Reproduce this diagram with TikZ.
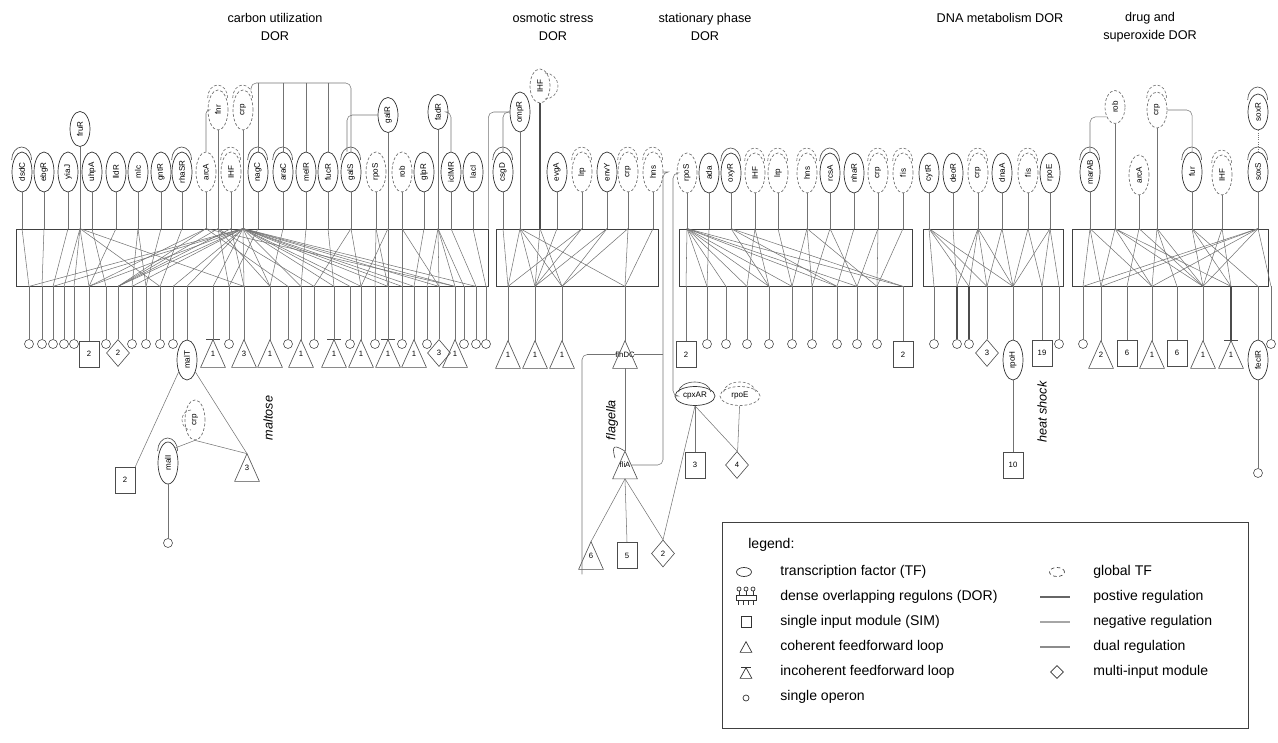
\documentclass[tikz,border=0pt]{standalone}
\usepackage{fontspec}
\setmainfont{Liberation Sans}
\usetikzlibrary{shapes.geometric,fit}

\newcommand\tffont{\fontsize{4.6}{5}\selectfont}
\newcommand\numfont{\fontsize{4.4}{5}\selectfont}
\newcommand\titlefont{\fontsize{7.2}{10.2}\selectfont}
\newcommand\legfont{\fontsize{8}{9.5}\selectfont}
\newcommand\vtext[1]{\rotatebox{90}{#1}}

% feedforward loop: name, x, y, number
\newcommand\cffl[4]{%
  \node[fflbox] (#1) at (#2,#3) {\raisebox{-2pt}{#4}};
  \draw[shapeline] (#1.south west) -- (#1.north) -- (#1.south east) -- cycle;}
\newcommand\incffl[4]{%
  \cffl{#1}{#2}{#3}{#4}
  \draw[shapeline] ([xshift=-0.14cm]#1.north) -- ([xshift=0.14cm]#1.north);}
% autoregulation loop over a TF
\newcommand\toploop[2][sloop]{%
  \draw[#1] ([yshift=0.24cm]#2.west) arc[start angle=180, end angle=0, x radius=0.2cm, y radius=0.26cm];}

\tikzset{
  tf/.style={draw=black!80, line width=0.4pt, ellipse, minimum width=0.4cm, minimum height=0.8cm, inner sep=0pt, font=\tffont},
  gtf/.style={tf, draw=black!55, dash pattern=on 1.6pt off 1.1pt},
  htf/.style={minimum width=0.8cm, minimum height=0.38cm},
  operon/.style={draw=black!70, line width=0.35pt, circle, minimum size=0.18cm, inner sep=0pt},
  sim/.style={draw=black!70, line width=0.35pt, minimum width=0.4cm, minimum height=0.52cm, inner sep=0pt, font=\numfont},
  mim/.style={draw=black!70, line width=0.35pt, diamond, minimum width=0.46cm, minimum height=0.54cm, inner sep=0pt, font=\numfont},
  fflbox/.style={minimum width=0.48cm, minimum height=0.54cm, inner sep=0pt, font=\numfont},
  shapeline/.style={black!70, line width=0.35pt},
  dor/.style={draw=black!75, line width=0.45pt, inner sep=0pt},
  reg/.style={black!55, line width=0.3pt},
  thickreg/.style={black!70, line width=0.9pt},
  sloop/.style={black!70, line width=0.35pt},
  gloop/.style={sloop, black!55, dash pattern=on 1.6pt off 1.1pt},
  title/.style={font=\titlefont, align=center},
  side/.style={font=\titlefont\itshape},
  legtext/.style={font=\legfont, anchor=west, inner sep=0pt},
}

\begin{document}
\begin{tikzpicture}[x=0.02cm, y=-0.02cm]
\useasboundingbox (0,0) rectangle (1278,743);

% Titles
\node[title] (tCarb) at (275,27) {carbon utilization\\DOR};
\node[title] (tOsmo) at (553,27) {osmotic stress\\DOR};
\node[title] (tStat) at (705,27) {stationary phase\\DOR};
\node[title] (tDNA) at (1000,18) {DNA metabolism DOR};
\node[title] (tDrug) at (1150,27) {drug and\\superoxide DOR};

% ---------------- carbon utilization DOR
\node[dor, fit={(16,229) (488,286)}] (dorC) {};
\foreach \n/\x in {dsdC/22, ebgR/44, yiaJ/68, uhpA/92, lldR/116, mlc/138, gntR/161, rhaSR/182, nagC/258, araC/283, melR/306, fucR/328, galS/351, glpR/424, iclMR/451, lacI/473}
  \node[tf] (\n) at (\x,172) {\vtext{\n}};
\foreach \n/\x/\t in {arcAc/206/arcA, IHFc/231/IHF, rpoSc/376/rpoS, robc/402/rob}
  \node[gtf] (\n) at (\x,172) {\vtext{\t}};
\node[tf, minimum height=0.7cm] (fruR) at (80,129) {\vtext{fruR}};
\node[gtf] (fnr) at (218,110) {\vtext{fnr}};
\node[gtf] (crpc) at (243,110) {\vtext{crp}};
\node[tf, minimum height=0.7cm] (galR) at (388,115) {\vtext{galR}};
\node[tf, minimum height=0.7cm] (fadR) at (438,112) {\vtext{fadR}};
\foreach \n in {dsdC, rhaSR, nagC, araC, galS} {\toploop{\n}}
\foreach \n in {IHFc, fnr, crpc} {\toploop[gloop]{\n}}

\foreach \n/\x in {co1/29, co2/42, co3/53, co4/64, co5/74, co6/106, co7/132, co8/146, co9/160, co10/173, co11/229, co12/288, co13/314, co14/350, co15/375, co16/402, co17/427, co18/464, co19/476, co20/486}
  \node[operon] (\n) at (\x,344) {};
\node[sim] (cs1) at (89,354) {2};
\node[mim] (cd1) at (118,353) {2};
\node[mim] (cd2) at (439,353) {3};
\node[tf] (malT) at (187,360) {\vtext{malT}};
\foreach \n/\x/\t in {ct2/244/3, ct3/270/1, ct4/301/1, ct6/361/1, ct8/414/1, ct9/455/1}
  {\cffl{\n}{\x}{353.5}{\t}}
\foreach \n/\x in {ct1/213, ct5/334, ct7/388}
  {\incffl{\n}{\x}{353.5}{1}}

% regulation above the box
\coordinate (crpbar) at (0,83);
\draw[reg, rounded corners=3] ([xshift=0.16cm]crpc.north) |- (galS |- crpbar) -- (galS.north);
\foreach \n in {nagC, araC, melR, fucR} \draw[reg] (\n |- crpbar) -- (\n.north);
\draw[reg, rounded corners=2] (fnr.west) -| (arcAc.north);
\draw[reg, rounded corners=3] (galR.west) -| ([xshift=-0.08cm]galS.north);
\draw[reg, rounded corners=3] (fadR.east) -| (iclMR.north);

\foreach \a in {dsdC, ebgR, yiaJ, uhpA, lldR, mlc, gntR, rhaSR, arcAc, IHFc, nagC, araC, melR, fucR, galS, rpoSc, robc, glpR, iclMR, lacI, fruR, fnr, crpc, galR, fadR}
  \draw[reg] (\a) -- (\a |- dorC.north);
\foreach \a/\b in {dsdC/co1, ebgR/co2, yiaJ/co3, fruR/co4, fruR/co5, fruR/cs1, fruR/co9, fruR/ct2, uhpA/co6, lldR/cs1, mlc/co7, mlc/co8, gntR/co8, rhaSR/co9, arcAc/cs1, arcAc/cd1, arcAc/co12, arcAc/ct9, fnr/cd1, fnr/co11, fnr/ct3, fnr/co13, IHFc/ct2, IHFc/cd1, crpc/co1, crpc/co3, crpc/cs1, crpc/cd1, crpc/co7, crpc/co10, crpc/malT, crpc/ct1, crpc/ct2, crpc/ct3, crpc/ct4, crpc/ct5, crpc/ct6, crpc/ct7, crpc/ct8, crpc/cd2, crpc/ct9, crpc/co14, crpc/co16, crpc/co19, nagC/co11, araC/ct3, melR/ct4, fucR/ct5, galS/co13, galS/ct6, rpoSc/ct7, rpoSc/co15, galR/ct6, galR/ct7, robc/co16, robc/cd2, glpR/ct8, fadR/cd2, fadR/co17, fadR/ct9, fadR/co18, iclMR/co19, lacI/co20}
  \draw[reg] (\a |- dorC.north) -- (\b |- dorC.south);
\foreach \b in {co1, co2, co3, co4, co5, co6, co7, co8, co9, co10, co11, co12, co13, co14, co15, co16, co17, co18, co19, co20, cs1, cd1, cd2, malT, ct1, ct2, ct3, ct4, ct5, ct6, ct7, ct8, ct9}
  \draw[reg] (\b |- dorC.south) -- (\b);

% maltose
\node[sim] (ms2) at (125,480) {2};
\cffl{mt3}{247}{467.5}{3}
\node[gtf] (crpm) at (195,420) {\vtext{crp}};
\draw[gloop] ([xshift=-0.08cm,yshift=0.2cm]crpm.center) arc[start angle=90, end angle=270, x radius=0.18cm, y radius=0.2cm];
\node[tf, minimum height=0.84cm] (malI) at (168,463) {\vtext{malI}};
\toploop{malI}
\node[operon] (mo1) at (168,543) {};
\draw[reg] (malT.235) -- (ms2.north east);
\draw[reg] (malT.305) -- (mt3.north);
\draw[reg] (crpm.south) -- (mt3.north);
\draw[reg] (crpm.south) -- (malI.north east);
\draw[reg] (malI) -- (mo1);
\node[side, rotate=90] (lMal) at (268,418) {maltose};

% ---------------- osmotic stress DOR
\node[dor, fit={(496,229) (658,286)}] (dorO) {};
\foreach \n/\x/\t in {csgD/503/csgD, evgA/557/evgA, envY/607/envY}
  \node[tf] (\n) at (\x,172) {\vtext{\t}};
\foreach \n/\x/\t in {lrpo/582/lrp, crpo/628/crp, hnso/653/hns}
  \node[gtf] (\n) at (\x,172) {\vtext{\t}};
\node[tf] (ompR) at (520,112) {\vtext{ompR}};
\node[gtf, minimum height=0.68cm] (IHFo) at (540,86) {\vtext{IHF}};
\toploop{csgD}
\foreach \n in {lrpo, crpo, hnso} {\toploop[gloop]{\n}}
\draw[gloop] ([xshift=0.1cm,yshift=0.26cm]IHFo.center) arc[start angle=90, end angle=-90, x radius=0.26cm, y radius=0.26cm];
\draw[reg, rounded corners=3] (ompR.west) -| (csgD.north);
\draw[reg, rounded corners=3] (ompR.west) -| (dorC.north east);

\foreach \n/\x in {ot1/508, ot2/535, ot3/562}
  {\cffl{\n}{\x}{354.5}{1}}
\cffl{flhDC}{625}{354.5}{flhDC}
\foreach \a in {csgD, ompR, evgA, lrpo, envY, crpo, hnso}
  \draw[reg] (\a) -- (\a |- dorO.north);
\draw[thickreg] (IHFo) -- (IHFo |- dorO.north);
\foreach \a/\b in {csgD/ot1, ompR/ot1, ompR/ot2, ompR/ot3, ompR/flhDC, IHFo/ot2, IHFo/ot3, evgA/ot2, lrpo/ot1, lrpo/ot2, envY/ot2, envY/ot3, crpo/ot3, crpo/flhDC, hnso/flhDC}
  \draw[reg] (\a |- dorO.north) -- (\b |- dorO.south);
\foreach \b in {ot1, ot2, ot3, flhDC}
  \draw[reg] (\b |- dorO.south) -- (\b);

% flagella
\cffl{fliA}{625}{465}{fliA}
\draw[sloop] ([xshift=-0.2cm,yshift=-0.14cm]fliA.north) .. controls +(-4,-14) and +(-10,-6) .. (fliA.north);
\cffl{ft6}{591}{555.5}{6}
\node[sim] (fs5) at (627,555.5) {5};
\node[mim] (fd2) at (663,553.5) {2};
\coordinate (hnsdrop) at (663,0);
\coordinate (flhleft) at (582,0);
\draw[reg] (flhDC) -- (fliA);
\draw[reg, rounded corners=3] (hnso.east) -| (hnsdrop |- fliA) -- ([xshift=-0.12cm]fliA.east);
\draw[reg] ([xshift=-0.06cm]flhDC.east) -- (hnsdrop |- flhDC);
\draw[reg, rounded corners=3] ([xshift=0.06cm]flhDC.west) -| ([yshift=-0.1cm]flhleft |- ft6.south);
\draw[reg] (fliA.south) -- (ft6.north);
\draw[reg] (fliA.south) -- (fs5.north);
\draw[reg] (fliA.south) -- (fd2.north);
\node[side, rotate=90] (lFla) at (612,420) {flagella};

% ---------------- stationary phase DOR
\node[dor, fit={(679,229) (912,286)}] (dorS) {};
\foreach \n/\x/\t in {ada/709/ada, oxyR/731/oxyR, rcsA/830/rcsA, nhaR/854/nhaR}
  \node[tf] (\n) at (\x,173) {\vtext{\t}};
\foreach \n/\x/\t in {rpoSs/687/rpoS, IHFs/755/IHF, lrps/778/lrp, hnss/807/hns, crps/878/crp, fiss/903/fis}
  \node[gtf] (\n) at (\x,173) {\vtext{\t}};
\foreach \n in {oxyR, rcsA} {\toploop{\n}}
\foreach \n in {IHFs, lrps, hnss, crps, fiss} {\toploop[gloop]{\n}}
\node[sim] (ss1) at (686,354.5) {2};
\node[sim] (ss2) at (903,354.5) {2};
\foreach \n/\x in {so1/707, so2/726, so3/747, so4/769, so5/792, so6/812, so7/837, so8/857, so9/877}
  \node[operon] (\n) at (\x,344) {};
\foreach \a in {rpoSs, ada, oxyR, IHFs, lrps, hnss, rcsA, nhaR, crps, fiss}
  \draw[reg] (\a) -- (\a |- dorS.north);
\foreach \a/\b in {rpoSs/ss1, rpoSs/so1, rpoSs/so2, rpoSs/so3, rpoSs/so4, rpoSs/so5, rpoSs/so7, rpoSs/so8, rpoSs/ss2, ada/so1, oxyR/so4, oxyR/so7, oxyR/ss2, IHFs/so3, IHFs/so4, lrps/so5, hnss/so5, hnss/so6, hnss/so9, rcsA/so6, rcsA/so8, nhaR/so7, crps/so8, crps/so9, fiss/so9}
  \draw[reg] (\a |- dorS.north) -- (\b |- dorS.south);
\foreach \b in {ss1, so1, so2, so3, so4, so5, so6, so7, so8, so9, ss2}
  \draw[reg] (\b |- dorS.south) -- (\b);

% cpxAR / rpoE
\node[tf, htf] (cpxAR) at (695,396) {cpxAR};
\node[gtf, htf] (rpoEs) at (740,396) {rpoE};
\draw[sloop] ([xshift=0.08cm,yshift=0.08cm]cpxAR.west) arc[start angle=180, end angle=0, x radius=0.32cm, y radius=0.2cm];
\draw[gloop] ([xshift=0.08cm,yshift=0.08cm]rpoEs.west) arc[start angle=180, end angle=0, x radius=0.32cm, y radius=0.2cm];
\coordinate (rpobend) at (673,0);
\draw[reg, rounded corners=3] (rpoSs.west) -| (rpobend |- cpxAR.west) -- (cpxAR.west);
\node[sim] (cs3) at (695,465) {3};
\node[mim] (cd4) at (737,465) {4};
\draw[reg] (cpxAR) -- (cs3);
\draw[reg] (cpxAR.south) -- (cd4.north);
\draw[reg] (rpoEs) -- (cd4);
\draw[reg] (cpxAR.south) -- (fd2.north);

% ---------------- DNA metabolism DOR
\node[dor, fit={(923,229) (1063,286)}] (dorD) {};
\foreach \n/\x/\t in {cytR/929/cytR, deoR/953/deoR, dnaA/1002/dnaA, rpoEd/1050/rpoE}
  \node[tf] (\n) at (\x,173) {\vtext{\t}};
\foreach \n/\x/\t in {crpd/978/crp, fisd/1028/fis}
  \node[gtf] (\n) at (\x,173) {\vtext{\t}};
\foreach \n in {crpd, fisd} {\toploop[gloop]{\n}}
\foreach \n/\x in {do1/934, do2/957, do3/969, do4/1059}
  \node[operon] (\n) at (\x,344) {};
\node[mim] (dd1) at (987,353) {3};
\node[tf] (rpoH) at (1013,360) {\vtext{rpoH}};
\node[sim] (ds1) at (1042,353) {19};
\foreach \a in {cytR, deoR, crpd, dnaA, fisd, rpoEd}
  \draw[reg] (\a) -- (\a |- dorD.north);
\foreach \a/\b in {cytR/do1, cytR/do3, cytR/dd1, cytR/rpoH, deoR/do2, crpd/do2, crpd/do3, crpd/dd1, crpd/rpoH, dnaA/dd1, dnaA/rpoH, fisd/rpoH, fisd/ds1, rpoEd/rpoH, rpoEd/ds1, rpoEd/do4}
  \draw[reg] (\a |- dorD.north) -- (\b |- dorD.south);
\foreach \b in {do1, do4, dd1, rpoH, ds1}
  \draw[reg] (\b |- dorD.south) -- (\b);
\foreach \b in {do2, do3}
  \draw[thickreg, line width=0.6pt] (\b |- dorD.south) -- (\b);
\node[sim] (ds10) at (1013,465) {10};
\draw[reg] (rpoH) -- (ds10);
\node[side, rotate=90] (lHeat) at (1042,412) {heat shock};

% ---------------- drug and superoxide DOR
\node[dor, fit={(1072,229) (1268,286)}] (dorX) {};
\foreach \n/\x/\t in {marAB/1090/marAB, fur/1192/fur, soxS/1258/soxS}
  \node[tf] (\n) at (\x,172) {\vtext{\t}};
\foreach \n/\x/\t in {arcAx/1139/arcA, IHFx/1222/IHF}
  \node[gtf] (\n) at (\x,175) {\vtext{\t}};
\node[gtf, minimum height=0.66cm] (robx) at (1115,107) {\vtext{rob}};
\node[gtf, minimum height=0.72cm] (crpx) at (1157,110) {\vtext{crp}};
\node[tf, minimum height=0.72cm] (soxR) at (1258,112) {\vtext{soxR}};
\foreach \n in {marAB, fur, soxS, soxR} {\toploop{\n}}
\foreach \n in {IHFx, crpx} {\toploop[gloop]{\n}}
\draw[reg, rounded corners=3] (robx.230) -| (marAB.north);
\draw[reg, rounded corners=3] (crpx.east) -| (fur.north);
\draw[reg, densely dotted] (soxR) -- (soxS);
\foreach \n/\x in {xo1/1083, xo2/1271}
  \node[operon] (\n) at (\x,344) {};
\cffl{xt1}{1101}{354.5}{2}
\node[sim] (xs1) at (1127,353) {6};
\cffl{xt2}{1152}{354.5}{1}
\node[sim] (xs2) at (1177,353) {6};
\cffl{xt3}{1203}{354.5}{1}
\incffl{xi1}{1231}{354.5}{1}
\node[tf] (fecIR) at (1258,360) {\vtext{fecIR}};
\node[operon] (xo3) at (1258,473) {};
\draw[reg] (fecIR) -- (xo3);
\foreach \a in {marAB, robx, arcAx, crpx, fur, IHFx, soxS}
  \draw[reg] (\a) -- (\a |- dorX.north);
\foreach \a/\b in {marAB/xo1, marAB/xt1, marAB/xt2, robx/xt1, robx/xt2, robx/xt3, robx/xi1, arcAx/xs1, arcAx/xt3, crpx/xt2, crpx/xs2, crpx/xt3, fur/xt3, fur/xi1, fur/fecIR, IHFx/xi1, IHFx/xt3, soxS/xo1, soxS/xt1, soxS/xt2, soxS/xt3, soxS/xo2}
  \draw[reg] (\a |- dorX.north) -- (\b |- dorX.south);
\foreach \b in {xo1, xt1, xs1, xt2, xs2, xt3, fecIR, xo2}
  \draw[reg] (\b |- dorX.south) -- (\b);
\draw[thickreg, line width=0.6pt] (xi1 |- dorX.south) -- (xi1);

% ---------------- legend
\node[draw=black!75, line width=0.45pt, inner sep=0pt, fit={(722,522) (1248,728)}] (legbox) {};
\node[legtext] (lgHead) at (748,545) {legend:};
\node[draw=black!80, ellipse, minimum width=0.3cm, minimum height=0.18cm, inner sep=0pt] (lgTF) at (744,572) {};
\node[legtext] (lgTFt) at (780,572) {transcription factor (TF)};
\node[draw=black!80, minimum width=0.4cm, minimum height=0.1cm, inner sep=0pt] (lgDOR) at (746,598) {};
\foreach \x in {739,746,753} {
  \draw[black!80] (\x,595.5) -- (\x,591);
  \draw[black!80] (\x,589) circle[radius=0.04cm];}
\foreach \x in {738,743,748,753} \draw[black!80] (\x,600.5) -- (\x,605);
\node[legtext] (lgDORt) at (780,597) {dense overlapping regulons (DOR)};
\node[draw=black!80, minimum width=0.2cm, minimum height=0.22cm, inner sep=0pt] (lgSIM) at (746,622) {};
\node[legtext] (lgSIMt) at (780,622) {single input module (SIM)};
\node[minimum width=0.22cm, minimum height=0.2cm, inner sep=0pt] (lgC) at (746,647) {};
\draw[black!80] (lgC.south west) -- (lgC.north) -- (lgC.south east) -- cycle;
\node[legtext] (lgCt) at (780,647) {coherent feedforward loop};
\node[minimum width=0.22cm, minimum height=0.2cm, inner sep=0pt] (lgI) at (746,673) {};
\draw[black!80] (lgI.south west) -- (lgI.north) -- (lgI.south east) -- cycle;
\draw[black!80] ([xshift=-0.1cm]lgI.north) -- ([xshift=0.1cm]lgI.north);
\node[legtext] (lgIt) at (780,672) {incoherent feedforward loop};
\node[draw=black!80, circle, minimum size=0.12cm, inner sep=0pt] (lgOp) at (746,698) {};
\node[legtext] (lgOpt) at (780,697) {single operon};

\node[draw=black!70, ellipse, dash pattern=on 2pt off 1.5pt, minimum width=0.3cm, minimum height=0.18cm, inner sep=0pt] (lgG) at (1057,572) {};
\node[legtext] (lgGt) at (1093,572) {global TF};
\coordinate (lgP0) at (1040,597); \coordinate (lgP1) at (1070,597);
\draw[black!60, line width=0.6pt] (lgP0) -- (lgP1);
\node[legtext] (lgPt) at (1093,597) {postive regulation};
\coordinate (lgN0) at (1040,622); \coordinate (lgN1) at (1070,622);
\draw[black!35, line width=0.6pt] (lgN0) -- (lgN1);
\node[legtext] (lgNt) at (1093,622) {negative regulation};
\coordinate (lgD0) at (1040,647); \coordinate (lgD1) at (1070,647);
\draw[black!45, line width=0.6pt] (lgD0) -- (lgD1);
\node[legtext] (lgDt) at (1093,647) {dual regulation};
\node[draw=black!80, diamond, minimum width=0.26cm, minimum height=0.26cm, inner sep=0pt] (lgM) at (1057,672) {};
\node[legtext] (lgMt) at (1093,672) {multi-input module};
\end{tikzpicture}
\end{document}
